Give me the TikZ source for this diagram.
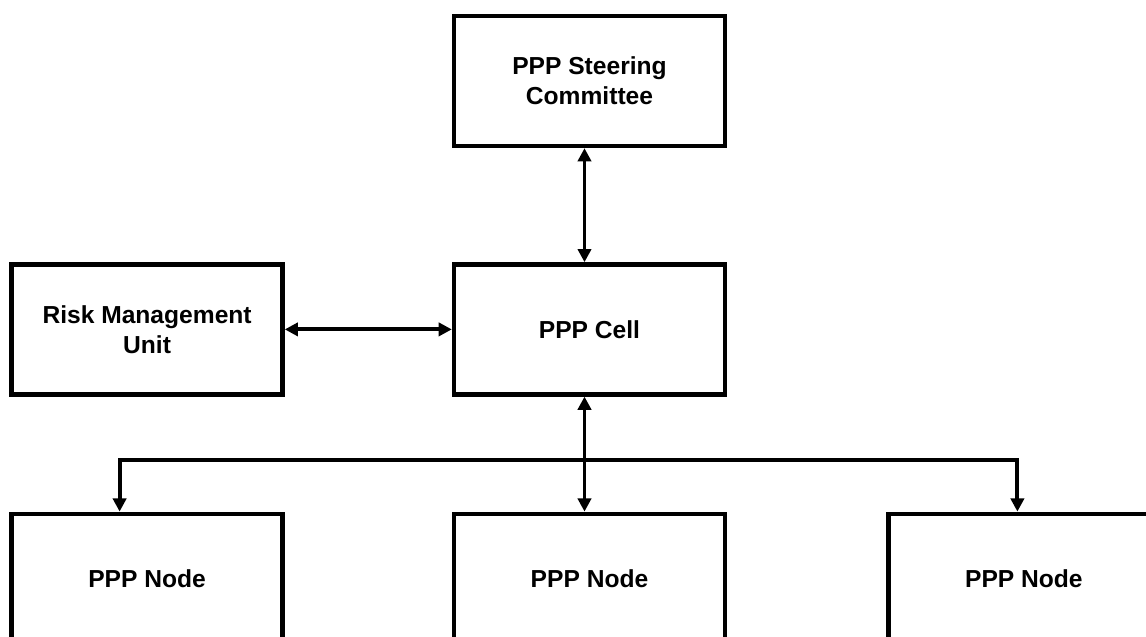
\documentclass[tikz,border=0pt]{standalone}
\usepackage{fontspec}
\setmainfont{Liberation Sans}
\usetikzlibrary{positioning, arrows.meta, calc}

\begin{document}
\begin{tikzpicture}[font=\bfseries\fontsize{14}{17}\selectfont, >={Triangle[length=7.5pt, width=7.5pt]},
        unitbox/.style={draw, line width=2.5pt, minimum width=5.42cm, minimum height=2.6cm, align=center, inner sep=0pt},
        link/.style={line width=2.2pt}]

            % --- 캔버스 크기 고정 (박스 일부가 잘려 보이도록 clip) ---
            \useasboundingbox (0, 0) rectangle (22.92, 12.72);
            \clip (0, 0) rectangle (22.92, 12.72);

            % --- 상단 박스 ---
            \node[unitbox] (steer) at (11.79, 11.1) {PPP Steering\\Committee};
            \node[unitbox, below=2.28cm of steer] (cell) {PPP Cell};
            \node[unitbox, left=3.34cm of cell] (risk) {Risk Management\\Unit};

            % --- 하단 노드 3개 ---
            \node[unitbox, below=2.30cm of cell] (nodeB) {PPP Node};
            \node[unitbox, below=2.30cm of risk] (nodeA) {PPP Node};
            \node[unitbox, right=3.18cm of nodeB] (nodeC) {PPP Node};

            % --- 연결선 ---
            \draw[link, <->] ([xshift=-0.1cm]steer.south) -- ([xshift=-0.1cm]cell.north);
            \draw[link, <->] (risk.east) -- (cell.west);
            \draw[link, <->] ([xshift=-0.1cm]cell.south) -- ([xshift=-0.1cm]nodeB.north);

            % 분기선 높이 (셀과 노드 사이)
            \coordinate (bus) at ($(cell.south)!0.55!(nodeB.north)$);
            \draw[link, <->] ([xshift=-0.55cm]nodeA.north) -- ([xshift=-0.55cm]nodeA.north |- bus)
                -- ([xshift=-0.13cm]nodeC.north |- bus) -- ([xshift=-0.13cm]nodeC.north);
        \end{tikzpicture}
\end{document}
